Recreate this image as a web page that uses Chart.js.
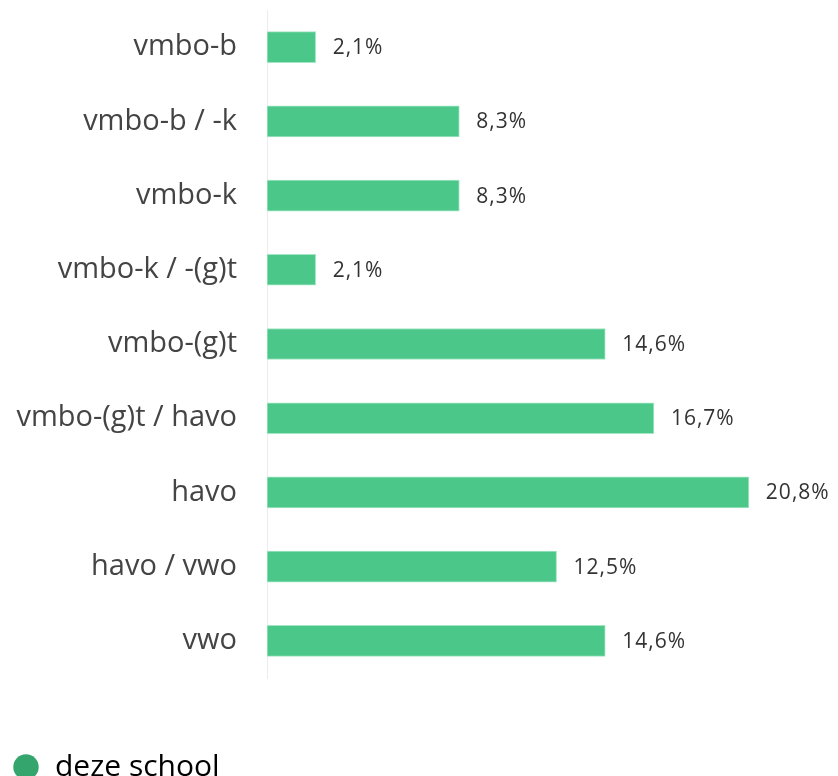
<!DOCTYPE html>
<html>
<head>
<meta charset="utf-8">
<script src="https://cdn.jsdelivr.net/npm/chart.js@4/dist/chart.umd.min.js"></script>
<style>
  html, body { margin: 0; padding: 0; background: #fff; overflow: hidden; }
  /* legenda valt deels buiten beeld, net als in het origineel */
  #wrap { width: 838px; height: 776px; overflow: hidden; }
  #inner { width: 838px; height: 792px; }
</style>
</head>
<body>
<div id="wrap"><div id="inner"><canvas id="chart"></canvas></div></div>
<script>
const categories = ['vmbo-b', 'vmbo-b / -k', 'vmbo-k', 'vmbo-k / -(g)t', 'vmbo-(g)t', 'vmbo-(g)t / havo', 'havo', 'havo / vwo', 'vwo'];
const percentages = [2.1, 8.3, 8.3, 2.1, 14.6, 16.7, 20.8, 12.5, 14.6];
const seriesName = 'deze school';

const FONT = "'Open Sans', 'Noto Sans', sans-serif";

// gradient per bar, licht linksboven naar donkerder rechtsonder
function barFill(ctx) {
    const el = ctx.element;
    const c = ctx.chart.ctx;
    if (!el || el.base === undefined || isNaN(el.x)) return '#4cc78a';
    const g = c.createLinearGradient(el.base, el.y - el.height / 2, el.x, el.y + el.height / 2);
    g.addColorStop(0, '#57d195');
    g.addColorStop(1, '#3ebd7d');
    return g;
}

const valueLabels = {
    id: 'valueLabels',
    afterDatasetsDraw(chart) {
        const c = chart.ctx;
        const meta = chart.getDatasetMeta(0);
        c.save();
        c.font = '21px ' + FONT;
        c.letterSpacing = '1px';
        c.fillStyle = '#333';
        c.textBaseline = 'middle';
        c.textAlign = 'left';
        meta.data.forEach((bar, i) => {
            const txt = percentages[i].toFixed(1).replace('.', ',') + '%';
            c.fillText(txt, bar.x + 17, bar.y + 1);
        });
        c.restore();
    }
};

new Chart(document.getElementById('chart'), {
    type: 'bar',
    data: {
        labels: categories,
        datasets: [{
            label: seriesName,
            data: percentages,
            backgroundColor: barFill,
            borderColor: '#a3e6c4',
            borderWidth: 1,
            borderSkipped: false,
            barThickness: 31
        }]
    },
    options: {
        indexAxis: 'y',
        responsive: true,
        maintainAspectRatio: false,
        animation: false,
        layout: { padding: { top: 10, right: 15, left: 2, bottom: 0 } },
        scales: {
            x: {
                display: true,
                min: 0,
                max: 24,
                grid: { display: false },
                border: { display: false },
                ticks: { display: false },
                afterFit(scale) {
                    scale.height = 64;
                    scale.paddingLeft = 0;
                    scale.paddingRight = 0;
                }
            },
            y: {
                grid: { display: false, drawTicks: false },
                border: { display: true, color: '#ececec', width: 1 },
                ticks: {
                    color: '#444',
                    font: { family: FONT, size: 29 },
                    padding: 30
                },
                afterFit(scale) {
                    scale.width = 265;
                    scale.paddingTop = 0;
                    scale.paddingBottom = 0;
                }
            }
        },
        plugins: {
            tooltip: { enabled: false },
            legend: {
                position: 'bottom',
                align: 'start',
                labels: {
                    usePointStyle: true,
                    pointStyle: 'circle',
                    boxWidth: 28,
                    boxHeight: 18,
                    padding: 10,
                    color: '#333',
                    font: { family: FONT, size: 30 },
                    generateLabels() {
                        return [{ text: seriesName, fillStyle: '#34a56d', strokeStyle: '#34a56d', lineWidth: 0, pointStyle: 'circle', datasetIndex: 0 }];
                    }
                }
            }
        }
    },
    plugins: [valueLabels]
});
</script>
</body>
</html>
